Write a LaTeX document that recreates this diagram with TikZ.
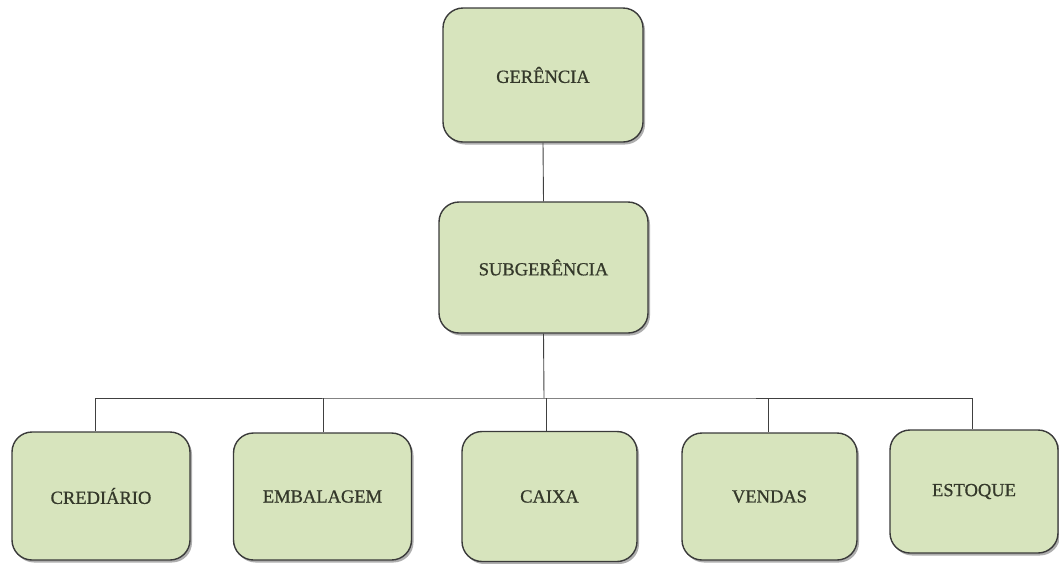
\documentclass[tikz,border=0pt]{standalone}
\usepackage{fontspec}
\setmainfont{Liberation Serif}
\newfontfamily\unitfont{Liberation Serif}[FakeBold=0.8]
\usetikzlibrary{shadows}
\definecolor{boxfill}{HTML}{D7E4BD}
\definecolor{boxline}{HTML}{3A3A3A}
\definecolor{boxtext}{HTML}{34382A}
\begin{document}
\begin{tikzpicture}[x=1pt,y=-1pt,
  unit/.style={draw=boxline, line width=1.4pt, fill=boxfill, rounded corners=20pt,
    inner sep=0pt, text=boxtext, font=\unitfont\fontsize{18.5}{20}\selectfont,
    drop shadow={shadow xshift=2pt, shadow yshift=-2.5pt, opacity=0.45, fill=black!70}},
  link/.style={draw=black!75, line width=0.9pt}]
\useasboundingbox (0,0) rectangle (1059,563);
% top levels
\node[unit, minimum width=200pt, minimum height=134pt] (ger) at (543,75) {GERÊNCIA};
\node[unit, minimum width=209pt, minimum height=131pt] (sub) at (543.5,267.5) {SUBGERÊNCIA};
% departments
\node[unit, minimum width=178pt, minimum height=128pt] (cred) at (101,496) {\raisebox{-4pt}{CREDIÁRIO}};
\node[unit, minimum width=178pt, minimum height=127pt] (emb) at (322.5,496.5) {\raisebox{-4pt}{EMBALAGEM}};
\node[unit, minimum width=175pt, minimum height=130pt] (cx) at (549.5,496.5) {\raisebox{-2pt}{CAIXA}};
\node[unit, minimum width=175pt, minimum height=127pt] (vend) at (769.5,496.5) {\raisebox{-6pt}{VENDAS}};
\node[unit, minimum width=168pt, minimum height=123pt] (est) at (974,491.5) {\raisebox{-5pt}{ESTOQUE}};
% connectors
\coordinate (bus) at (544,398);
\draw[link] (ger.south) -- (sub.north);
\draw[link] (sub.south) -- (bus);
\draw[link] (cred.north -| 95,0) |- (bus) -| (est.north -| 972,0);
\draw[link] (emb.north -| 323,0) -- (323,398);
\draw[link] (cx.north -| 546,0) -- (546,398);
\draw[link] (vend.north -| 768,0) -- (768,398);
\end{tikzpicture}
\end{document}
